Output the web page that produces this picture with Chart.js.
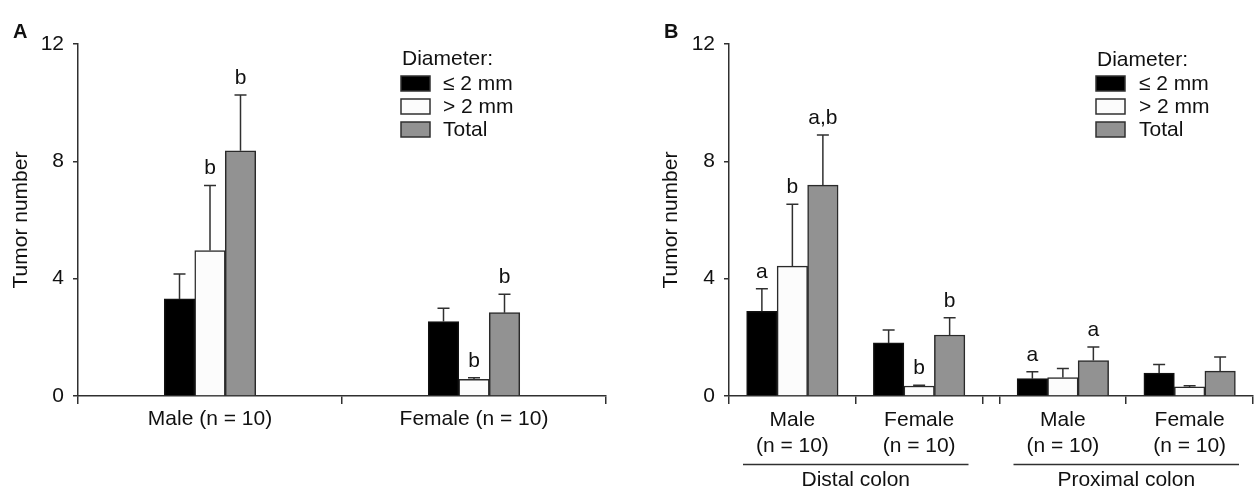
<!DOCTYPE html>
<html><head><meta charset="utf-8">
<script src="https://cdn.jsdelivr.net/npm/chart.js@4.4.1/dist/chart.umd.min.js"></script>
<style>
html,body{margin:0;padding:0;background:#fff;}
#wrap{position:relative;width:1255px;height:490px;overflow:hidden;background:#fff;}
.panel{position:absolute;top:0;height:490px;}
#pa{left:0;width:620px;} #pb{left:620px;width:635px;}
.lbl{position:absolute;font:bold 20px "Liberation Sans",Arial,sans-serif;line-height:20px;color:#111;}
</style></head><body>
<div id="wrap">
<div class="panel" id="pa"><canvas id="ca" width="620" height="490"></canvas></div>
<div class="panel" id="pb"><canvas id="cb" width="635" height="490"></canvas></div>
<div class="lbl" style="left:13px;top:21px">A</div>
<div class="lbl" style="left:664px;top:21px">B</div>
</div>
<script>
// ---------- data ----------
const sizeClasses = ['≤ 2 mm', '> 2 mm', 'Total'];
const legendTitle = 'Diameter:';
const yTitle = 'Tumor number';
const yTicks = [0, 4, 8, 12];

// Panel A
const groupsA = ['Male (n = 10)', 'Female (n = 10)'];
const meanA_le2 = [3.31, 2.54];
const semA_le2  = [0.85, 0.45];
const meanA_gt2 = [4.96, 0.57];
const semA_gt2  = [2.22, 0.05];
const meanA_tot = [8.36, 2.84];
const semA_tot  = [1.90, 0.63];
const sigA_le2 = ['', ''];
const sigA_gt2 = ['b', 'b'];
const sigA_tot = ['b', 'b'];

// Panel B (distal male, distal female, proximal male, proximal female)
const segmentsB = ['Distal colon', 'Proximal colon'];
const sexesB = [['Male', '(n = 10)'], ['Female', '(n = 10)']];
const meanB_le2 = [2.89, 1.81, 0.59, 0.78];
const semB_le2  = [0.77, 0.44, 0.24, 0.29];
const meanB_gt2 = [4.43, 0.34, 0.63, 0.31];
const semB_gt2  = [2.11, 0.03, 0.31, 0.04];
const meanB_tot = [7.19, 2.08, 1.21, 0.85];
const semB_tot  = [1.71, 0.59, 0.46, 0.48];
const sigB_le2 = ['a', '', 'a', ''];
const sigB_gt2 = ['b', 'b', '', ''];
const sigB_tot = ['a,b', 'b', 'a', ''];

// ---------- styles ----------
const FONT = '"Liberation Sans", Arial, Helvetica, sans-serif';
const FS = 21;
const TXT = '#111111';
const LINE = '#303030';
const fills = ['#000000', '#fcfcfc', '#929292'];
const borders = ['#111111', '#2a2a2a', '#2a2a2a'];
Chart.defaults.font.family = FONT;
Chart.defaults.font.size = FS;
Chart.defaults.color = TXT;

// ---------- plugins ----------
const errorBars = {
  id: 'errorBars',
  afterDatasetsDraw(chart) {
    const ctx = chart.ctx, ys = chart.scales.y;
    ctx.save();
    chart.data.datasets.forEach((ds, i) => {
      const meta = chart.getDatasetMeta(i);
      meta.data.forEach((bar, j) => {
        const m = meta.controller.getParsed(j).y;
        const top = ys.getPixelForValue(m + ds.sem[j]);
        ctx.strokeStyle = LINE; ctx.lineWidth = 1.5;
        ctx.beginPath();
        ctx.moveTo(bar.x, bar.y); ctx.lineTo(bar.x, top);
        ctx.moveTo(bar.x - 6, top); ctx.lineTo(bar.x + 6, top);
        ctx.stroke();
        if (ds.sig[j]) {
          ctx.fillStyle = TXT;
          ctx.font = FS + 'px ' + FONT;
          ctx.textAlign = 'center';
          ctx.textBaseline = 'alphabetic';
          ctx.fillText(ds.sig[j], bar.x, top - 11);
        }
      });
    });
    ctx.restore();
  }
};

const diamLegend = {
  id: 'diamLegend',
  afterDraw(chart, args, o) {
    const ctx = chart.ctx;
    ctx.save();
    ctx.font = FS + 'px ' + FONT;
    ctx.fillStyle = TXT;
    ctx.textAlign = 'left';
    ctx.textBaseline = 'alphabetic';
    ctx.fillText(legendTitle, o.x + 1, o.titleY);
    chart.data.datasets.forEach((ds, i) => {
      const t = o.boxTop + i * o.rowH;
      ctx.fillStyle = ds.backgroundColor;
      ctx.fillRect(o.x, t, o.boxW, o.boxH);
      ctx.strokeStyle = LINE; ctx.lineWidth = 1.5;
      ctx.strokeRect(o.x, t, o.boxW, o.boxH);
      ctx.fillStyle = TXT;
      ctx.textBaseline = 'middle';
      ctx.fillText(ds.label, o.textX, t + o.boxH / 2 + 1);
    });
    ctx.restore();
  }
};

const segmentLines = {
  id: 'segmentLines',
  afterDraw(chart, args, o) {
    const ctx = chart.ctx, xs = chart.scales.x, x3 = chart.scales.x3;
    ctx.save();
    ctx.strokeStyle = LINE; ctx.lineWidth = 1.5;
    segmentsB.forEach((s, k) => {
      const a = k * (2 + AXIS_BREAK), b = a + 2;
      ctx.beginPath();
      ctx.moveTo(xs.getPixelForValue(a) + o.inset, x3.top + 0.5);
      ctx.lineTo(xs.getPixelForValue(b) - o.inset, x3.top + 0.5);
      ctx.stroke();
    });
    ctx.restore();
  }
};

function yScale(widthPx) {
  return {
    min: 0, max: 12,
    afterBuildTicks: s => { s.ticks = yTicks.map(v => ({ value: v })); },
    ticks: { padding: 9, color: TXT, font: { size: FS } },
    grid: { drawOnChartArea: false, tickLength: 5, color: LINE, lineWidth: 1.5 },
    border: { color: LINE, width: 1.5 },
    title: { display: true, text: yTitle, color: TXT, font: { size: FS }, padding: { top: 9, bottom: 0 } },
    afterFit: s => { s.width = widthPx; }
  };
}

function mkDatasets(means, sems, sigs, toData) {
  return sizeClasses.map((lab, i) => ({
    label: lab,
    data: toData(means[i]),
    sem: sems[i],
    sig: sigs[i],
    backgroundColor: fills[i],
    borderColor: borders[i],
    borderWidth: 1.5,
    barThickness: 30.5
  }));
}

// ---------- Panel A ----------
new Chart(document.getElementById('ca'), {
  type: 'bar',
  data: {
    labels: groupsA,
    datasets: mkDatasets([meanA_le2, meanA_gt2, meanA_tot], [semA_le2, semA_gt2, semA_tot],
                         [sigA_le2, sigA_gt2, sigA_tot], m => m)
  },
  options: {
    responsive: false, animation: false, devicePixelRatio: 1,
    layout: { padding: { left: 0, right: 14, top: 44, bottom: 0 } },
    plugins: {
      legend: { display: false }, tooltip: { enabled: false },
      diamLegend: { x: 401, titleY: 65, boxTop: 76, rowH: 23, boxW: 29, boxH: 15, textX: 443 }
    },
    scales: {
      x: {
        offset: true,
        grid: { offset: true, drawOnChartArea: false, tickLength: 8, color: LINE, lineWidth: 1.5 },
        border: { color: LINE, width: 1.5 },
        ticks: { padding: 3, color: TXT, font: { size: FS }, maxRotation: 0 },
        afterFit: s => { s.height = 94; }
      },
      y: yScale(78)
    }
  },
  plugins: [errorBars, diamLegend]
});

// ---------- Panel B ----------
const AXIS_BREAK = 0.134;   // width of the axis break, in category units
const XMAX = 4 + AXIS_BREAK;
const boundsB = [];
const centersB = [];
const segCentersB = [];
segmentsB.forEach((s, k) => {
  const o = k * (2 + AXIS_BREAK);
  boundsB.push(o, o + 1, o + 2);
  sexesB.forEach((_, j) => centersB.push(o + j + 0.5));
  segCentersB.push(o + 1);
});

const linAxis = extra => Object.assign({
  type: 'linear', min: 0, max: XMAX, offset: false, position: 'bottom'
}, extra);

new Chart(document.getElementById('cb'), {
  type: 'bar',
  data: {
    datasets: mkDatasets([meanB_le2, meanB_gt2, meanB_tot], [semB_le2, semB_gt2, semB_tot],
                         [sigB_le2, sigB_gt2, sigB_tot],
                         m => m.map((v, i) => ({ x: centersB[i], y: v })))
  },
  options: {
    responsive: false, animation: false, devicePixelRatio: 1,
    layout: { padding: { left: 30, right: 2, top: 44, bottom: 0 } },
    plugins: {
      legend: { display: false }, tooltip: { enabled: false },
      diamLegend: { x: 476, titleY: 66, boxTop: 76, rowH: 23, boxW: 29, boxH: 15, textX: 519 },
      segmentLines: { inset: 14 }
    },
    scales: {
      x: linAxis({
        weight: 0,
        afterBuildTicks: s => { s.ticks = boundsB.map(v => ({ value: v })); },
        grid: { offset: false, drawOnChartArea: false, tickLength: 8, color: LINE, lineWidth: 1.5 },
        border: { color: LINE, width: 1.5 },
        ticks: { display: false },
        afterFit: s => { s.height = 8; }
      }),
      x2: linAxis({
        weight: 1,
        afterBuildTicks: s => { s.ticks = centersB.map(v => ({ value: v })); },
        grid: { offset: false, display: false, drawTicks: false },
        border: { display: false },
        ticks: { padding: 4, autoSkip: false, maxRotation: 0, color: TXT, font: { size: FS },
                 callback: (v, i) => sexesB[i % sexesB.length] },
        afterFit: s => { s.height = 60; }
      }),
      x3: linAxis({
        weight: 2,
        afterBuildTicks: s => { s.ticks = segCentersB.map(v => ({ value: v })); },
        grid: { offset: false, display: false, drawTicks: false },
        border: { display: false },
        ticks: { padding: 4, autoSkip: false, maxRotation: 0, color: TXT, font: { size: FS },
                 callback: (v, i) => segmentsB[i] },
        afterFit: s => { s.height = 26; }
      }),
      y: yScale(79)
    }
  },
  plugins: [errorBars, diamLegend, segmentLines]
});
</script>
</body></html>
